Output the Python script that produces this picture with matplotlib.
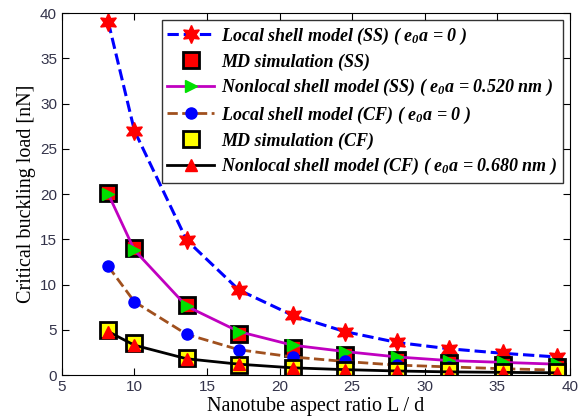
import numpy as np
import matplotlib
matplotlib.use("Agg")
import matplotlib.pyplot as plt

# ==============================
# DATA
# ==============================

aspect_ratio = [8.2, 10.0, 13.6, 17.2, 20.9, 24.5, 28.1, 31.7, 35.4, 39.1]

local_ss = [39.0, 27.0, 14.9, 9.4, 6.6, 4.8, 3.6, 2.9, 2.4, 2.0]
md_ss = [20.1, 14.0, 7.7, 4.5, 3.0, 2.2, 1.7, 1.3, 1.1, 0.9]
nonlocal_ss = [20.0, 13.8, 7.6, 4.8, 3.3, 2.6, 2.0, 1.6, 1.4, 1.2]

local_cf = [12.0, 8.1, 4.5, 2.8, 2.0, 1.5, 1.1, 0.9, 0.7, 0.55]
md_cf = [5.0, 3.5, 1.9, 1.1, 0.8, 0.6, 0.5, 0.4, 0.35, 0.3]
nonlocal_cf = [4.8, 3.3, 1.8, 1.2, 0.8, 0.6, 0.45, 0.35, 0.3, 0.25]

labels = [
    r"Local shell model (SS) ( e$_0$a = 0 )",
    r"MD simulation (SS)",
    r"Nonlocal shell model (SS) ( e$_0$a = 0.520 nm )",
    r"Local shell model (CF) ( e$_0$a = 0 )",
    r"MD simulation (CF)",
    r"Nonlocal shell model (CF) ( e$_0$a = 0.680 nm )",
]

# ==============================
# STYLE
# ==============================

plt.rcParams["mathtext.fontset"] = "custom"
plt.rcParams["mathtext.rm"] = "Liberation Serif:bold:italic"
plt.rcParams["mathtext.it"] = "Liberation Serif:bold:italic"
plt.rcParams["mathtext.bf"] = "Liberation Serif:bold:italic"

star = (6, 1, 0)

fig = plt.figure(figsize=(5.78, 4.2), dpi=100)
ax = fig.add_axes([0.107, 0.107, 0.879, 0.862])

ax.plot(aspect_ratio, local_ss, "--", color="blue", lw=2.2,
        marker=star, ms=13, mfc="red", mec="red", label=labels[0])
ax.plot(aspect_ratio, md_ss, ls="none", marker="s", ms=11,
        mfc="red", mec="black", mew=2, label=labels[1])
ax.plot(aspect_ratio, nonlocal_ss, "-", color="#c000c0", lw=2,
        marker=">", ms=9, mfc="#00e000", mec="#00e000", label=labels[2])
ax.plot(aspect_ratio, local_cf, "--", color="#a0501e", lw=2,
        marker="o", ms=8, mfc="blue", mec="blue", label=labels[3])
ax.plot(aspect_ratio, md_cf, ls="none", marker="s", ms=11,
        mfc="yellow", mec="black", mew=2, label=labels[4])
ax.plot(aspect_ratio, nonlocal_cf, "-", color="black", lw=2,
        marker="^", ms=8, mfc="red", mec="red", label=labels[5])

ax.set_xlim(5, 40)
ax.set_ylim(0, 40)
ax.set_xticks(np.arange(5, 41, 5))
ax.set_yticks(np.arange(0, 41, 5))
ax.tick_params(direction="in", top=True, right=True, length=5,
               labelsize=11, labelcolor="#33334a")
for lbl in ax.get_xticklabels() + ax.get_yticklabels():
    lbl.set_family("Liberation Sans")

ax.set_xlabel("Nanotube aspect ratio L / d", family="Liberation Serif",
              fontsize=14.5, labelpad=2)
ax.set_ylabel("Critical buckling load [nN]", family="Liberation Serif",
              fontsize=14.5, labelpad=3)

leg = ax.legend(loc="upper right", bbox_to_anchor=(0.997, 0.995),
                prop={"family": "Liberation Serif", "weight": "bold",
                      "style": "italic", "size": 13},
                frameon=True, fancybox=False, edgecolor="black",
                handlelength=2.6, handletextpad=0.4, labelspacing=0.36,
                borderpad=0.3, borderaxespad=0.3)
leg.get_frame().set_linewidth(1.0)

fig.savefig("out.png", dpi=100)
